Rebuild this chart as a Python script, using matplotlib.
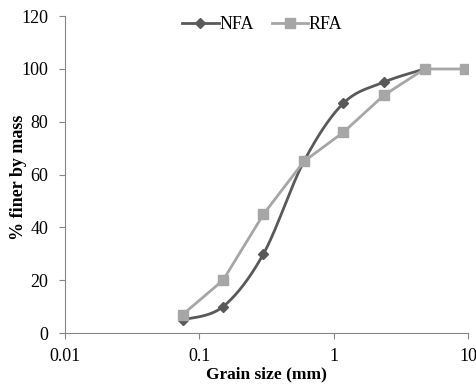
import numpy as np
import matplotlib
matplotlib.use("Agg")
import matplotlib.pyplot as plt

sizes = [0.075, 0.15, 0.3, 0.6, 1.18, 2.36, 4.75, 9.5]
nfa = [5, 10, 30, 65, 87, 95, 100, 100]
rfa = [7, 20, 45, 65, 76, 90, 100, 100]
xticks = [0.01, 0.1, 1, 10]
xticklabels = ["0.01", "0.1", "1", "10"]
yticks = [0, 20, 40, 60, 80, 100, 120]

plt.rcParams['font.family'] = ['Liberation Serif']

def smooth(xs, ys, n=30):
    # Excel-like smoothing (Catmull-Rom via cubic Bezier) in log-x space
    lx = np.log10(xs); y = np.asarray(ys, float)
    sx = 1.0 / (lx.max() - lx.min() + 1e-9); sy = 1.0 / 100
    P = np.column_stack([lx * sx, y * sy])
    out = [P[0]]
    for i in range(len(P) - 1):
        p0 = P[i - 1] if i > 0 else P[i]
        p1 = P[i]; p2 = P[i + 1]
        p3 = P[i + 2] if i + 2 < len(P) else P[i + 1]
        c1 = p1 + (p2 - p0) / 6
        c2 = p2 - (p3 - p1) / 6
        t = np.linspace(0, 1, n)[1:, None]
        seg = (1 - t) ** 3 * p1 + 3 * (1 - t) ** 2 * t * c1 + 3 * (1 - t) * t ** 2 * c2 + t ** 3 * p2
        out.extend(seg)
    out = np.array(out)
    return 10 ** (out[:, 0] / sx), out[:, 1] / sy

fig = plt.figure(figsize=(4.76, 3.85), dpi=100)
ax = fig.add_axes([0.137, 0.135, 0.846, 0.823])

c_n = "#595959"; c_r = "#A6A6A6"
sxn, syn = smooth(sizes[:7], nfa[:7])
ax.plot(sxn, syn, color=c_n, lw=2, zorder=2)
ax.plot(sizes[:7], nfa[:7], ls="none", marker="D", ms=5.5, color=c_n, zorder=3)
ax.plot(sizes, rfa, color=c_r, lw=2, marker="s", ms=7.5, zorder=4)

ax.plot([], [], color=c_n, lw=2, marker="D", ms=5.5, label="NFA")
ax.plot([], [], color=c_r, lw=2, marker="s", ms=7.5, label="RFA")

ax.set_xscale("log")
ax.set_xlim(0.01, 10)
ax.set_ylim(0, 120)
ax.set_xticks(xticks)
ax.set_xticklabels(xticklabels)
ax.xaxis.set_minor_locator(matplotlib.ticker.NullLocator())
ax.set_yticks(yticks)
for s in ["top", "right"]:
    ax.spines[s].set_visible(False)
for s in ["left", "bottom"]:
    ax.spines[s].set_color("#868686")
ax.tick_params(axis="both", colors="#868686", labelcolor="black", labelsize=13, length=4, direction="out")
ax.tick_params(axis="y", pad=8)
ax.tick_params(axis="x", pad=7)
ax.set_xlabel("Grain size (mm)", fontsize=12.5, fontweight="bold", labelpad=1)
ax.set_ylabel("% finer by mass", fontsize=13, fontweight="bold")
ax.yaxis.set_label_coords(-0.117, 0.49)
ax.yaxis.label.set_va("center")

leg = ax.legend(loc="upper center", bbox_to_anchor=(0.49, 1.04), ncol=2, frameon=False,
                fontsize=13, handlelength=2.0, handletextpad=0.05, columnspacing=1.0,
                borderpad=0.2)
fig.savefig("out.png", dpi=100)
